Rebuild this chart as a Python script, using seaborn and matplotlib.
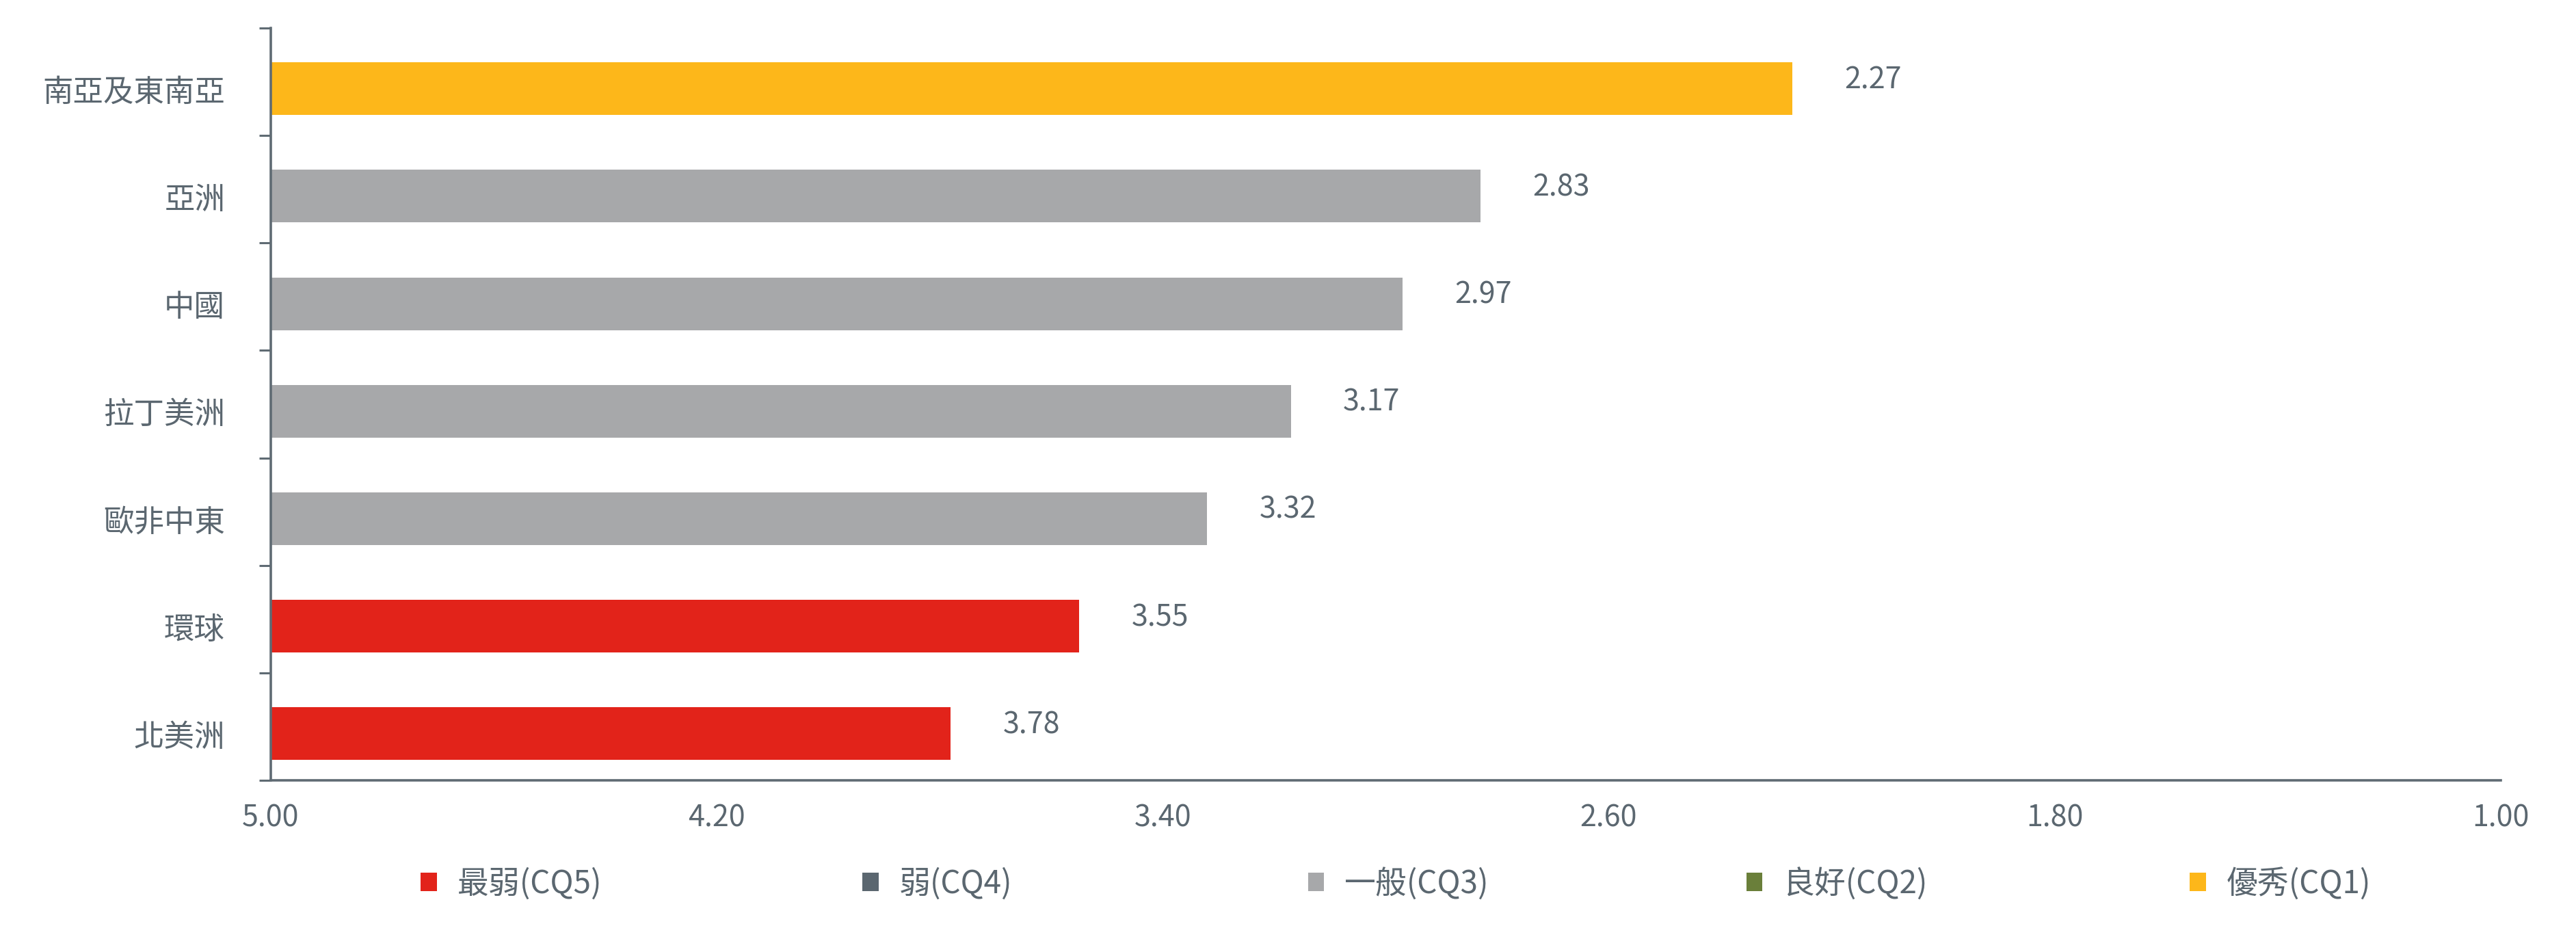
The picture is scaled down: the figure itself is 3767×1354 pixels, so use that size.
import numpy as np
import pandas as pd
import matplotlib
matplotlib.use("Agg")
import matplotlib.pyplot as plt
import seaborn as sns
from matplotlib.patches import Patch
from matplotlib.ticker import FixedLocator, FormatStrFormatter

# ---------------- data ----------------
regions = ["南亞及東南亞", "亞洲", "中國", "拉丁美洲", "歐非中東", "環球", "北美洲"]
scores = [2.27, 2.83, 2.97, 3.17, 3.32, 3.55, 3.78]
ratings = ["優秀(CQ1)", "一般(CQ3)", "一般(CQ3)", "一般(CQ3)", "一般(CQ3)", "最弱(CQ5)", "最弱(CQ5)"]
legend_labels = ["最弱(CQ5)", "弱(CQ4)", "一般(CQ3)", "良好(CQ2)", "優秀(CQ1)"]
legend_colors = ["#e2231a", "#5b6770", "#a7a8aa", "#6a7f3a", "#fdb71a"]
x_ticks = [5.00, 4.20, 3.40, 2.60, 1.80, 1.00]
axis_start = 5.00
axis_end = 1.00

# ---------------- style ----------------
sns.set_theme(style="white")
plt.rcParams['font.family'] = ['Noto Sans CJK TC', 'DejaVu Sans']
plt.rcParams['font.weight'] = 'light'
text_color = "#5b6770"
axis_color = "#5f6b73"
slot_shift = 0.065   # bars sit slightly below the centre of their tick slots

W, H = 3767, 1354
fig = plt.figure(figsize=(W / 100, H / 100), dpi=100, facecolor="white")
ax = fig.add_axes([0.1051, 0.1573, 0.9707 - 0.1051, 0.9697 - 0.1573])

df = pd.DataFrame({"region": regions, "score": scores, "rating": ratings})
df["span"] = df["score"] - axis_start
palette = dict(zip(legend_labels, legend_colors))

sns.barplot(data=df, x="span", y="region", hue="rating", palette=palette,
            order=regions, hue_order=legend_labels, dodge=False, width=0.49,
            errorbar=None, left=axis_start, legend=False, saturation=1,
            linewidth=0, ax=ax)

ax.set_xlim(axis_start, axis_end)
ax.set_ylim(len(regions) - 0.5 - slot_shift, -0.5 - slot_shift)
ax.xaxis.set_major_locator(FixedLocator(x_ticks))
ax.xaxis.set_major_formatter(FormatStrFormatter("%.2f"))
ax.set_xlabel("")
ax.set_ylabel("")

ax.yaxis.set_minor_locator(FixedLocator(np.arange(len(regions) + 1) - 0.5 - slot_shift))
ax.tick_params(axis="y", which="minor", left=True, length=12.5, width=2.2, color=axis_color)
ax.tick_params(axis="y", which="major", left=False, length=0, pad=48, labelsize=32, labelcolor=text_color)
ax.tick_params(axis="x", which="both", bottom=False, length=0, pad=24, labelsize=31, labelcolor=text_color)

for s in ["top", "right"]:
    ax.spines[s].set_visible(False)
for s in ["left", "bottom"]:
    ax.spines[s].set_color(axis_color)
    ax.spines[s].set_linewidth(2.6)

for i, v in enumerate(scores):
    ax.annotate(f"{v:.2f}", xy=(v, i), xytext=(55, 9), textcoords="offset points",
                ha="left", va="center", fontsize=31, color=text_color)

legend_x = [0.1633, 0.3348, 0.5077, 0.6779, 0.8501]
for lx, lab, col in zip(legend_x, legend_labels, legend_colors):
    fig.legend(handles=[Patch(facecolor=col, edgecolor="none")], labels=[lab],
               loc="center left", bbox_to_anchor=(lx, 0.0455), frameon=False,
               fontsize=33, handlelength=0.52, handleheight=0.52, handletextpad=0.65,
               borderpad=0, borderaxespad=0, labelcolor=text_color)

fig.savefig("out.png", dpi=100, facecolor="white")
